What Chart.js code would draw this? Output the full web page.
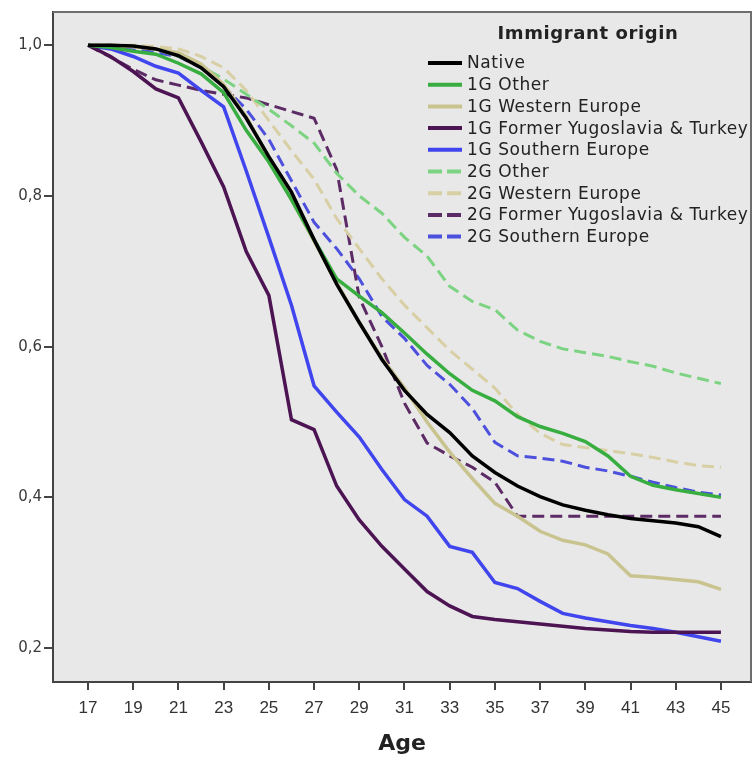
<!DOCTYPE html>
<html lang="en">
<head>
<meta charset="UTF-8">
<title>Immigrant origin by age</title>
<script src="https://cdn.jsdelivr.net/npm/chart.js"></script>
<style>
  html, body { margin: 0; padding: 0; background: #fff; }
  #wrap { width: 755px; height: 763px; }
</style>
</head>
<body>
<div id="wrap"><canvas id="ageChart"></canvas></div>
<script>
// ages on the x axis, one value per year
const ages = [17, 18, 19, 20, 21, 22, 23, 24, 25, 26, 27, 28, 29, 30, 31, 32, 33, 34, 35, 36, 37, 38, 39, 40, 41, 42, 43, 44, 45];

const nativeVals   = [1.0, 1.0, 0.999, 0.995, 0.986, 0.97, 0.945, 0.903, 0.852, 0.805, 0.742, 0.683, 0.632, 0.583, 0.542, 0.51, 0.486, 0.455, 0.433, 0.415, 0.401, 0.39, 0.383, 0.377, 0.372, 0.369, 0.366, 0.361, 0.348];
const other1G      = [1.0, 0.997, 0.992, 0.988, 0.976, 0.962, 0.937, 0.887, 0.845, 0.795, 0.742, 0.69, 0.667, 0.645, 0.618, 0.59, 0.564, 0.542, 0.528, 0.507, 0.494, 0.485, 0.474, 0.455, 0.428, 0.416, 0.41, 0.405, 0.40];
const western1G    = [1.0, 1.0, 0.998, 0.995, 0.99, 0.975, 0.948, 0.905, 0.85, 0.795, 0.74, 0.685, 0.632, 0.585, 0.545, 0.50, 0.46, 0.425, 0.392, 0.375, 0.355, 0.343, 0.337, 0.325, 0.296, 0.294, 0.291, 0.288, 0.278];
const yugo1G       = [1.0, 0.985, 0.965, 0.942, 0.93, 0.872, 0.812, 0.726, 0.668, 0.503, 0.49, 0.415, 0.37, 0.335, 0.305, 0.275, 0.256, 0.242, 0.238, 0.235, 0.232, 0.229, 0.226, 0.224, 0.222, 0.221, 0.221, 0.221, 0.221];
const south1G      = [1.0, 0.995, 0.985, 0.972, 0.963, 0.94, 0.918, 0.833, 0.745, 0.655, 0.548, 0.513, 0.48, 0.437, 0.397, 0.375, 0.335, 0.327, 0.287, 0.279, 0.262, 0.246, 0.24, 0.235, 0.23, 0.226, 0.221, 0.215, 0.209];
const other2G      = [1.0, 1.0, 0.998, 0.995, 0.985, 0.972, 0.955, 0.935, 0.915, 0.893, 0.87, 0.83, 0.80, 0.777, 0.745, 0.72, 0.68, 0.66, 0.649, 0.622, 0.607, 0.597, 0.592, 0.587, 0.58, 0.574, 0.565, 0.558, 0.551];
const western2G    = [1.0, 1.0, 1.0, 0.998, 0.995, 0.985, 0.97, 0.94, 0.90, 0.86, 0.822, 0.77, 0.73, 0.69, 0.655, 0.625, 0.595, 0.57, 0.545, 0.51, 0.485, 0.47, 0.466, 0.462, 0.458, 0.453, 0.447, 0.442, 0.44];
const yugo2G       = [1.0, 0.984, 0.968, 0.954, 0.947, 0.94, 0.935, 0.93, 0.921, 0.912, 0.903, 0.835, 0.665, 0.60, 0.525, 0.472, 0.455, 0.44, 0.42, 0.375, 0.375, 0.375, 0.375, 0.375, 0.375, 0.375, 0.375, 0.375, 0.375];
const south2G      = [1.0, 1.0, 0.995, 0.99, 0.985, 0.97, 0.945, 0.915, 0.875, 0.82, 0.765, 0.73, 0.69, 0.64, 0.611, 0.575, 0.55, 0.518, 0.473, 0.455, 0.452, 0.448, 0.44, 0.435, 0.428, 0.42, 0.413, 0.407, 0.403];

const seriesNames = ['Native', '1G Other', '1G Western Europe', '1G Former Yugoslavia & Turkey', '1G Southern Europe',
                     '2G Other', '2G Western Europe', '2G Former Yugoslavia & Turkey', '2G Southern Europe'];
const seriesValues = [nativeVals, other1G, western1G, yugo1G, south1G, other2G, western2G, yugo2G, south2G];
const seriesColors = ['#000000', '#38ad40', '#c9c48f', '#4c1452', '#4045ee', '#7cd482', '#d8cfa4', '#5c2a64', '#4d50dd'];
const seriesDashed = [false, false, false, false, false, true, true, true, true];

const xTicks = [17, 19, 21, 23, 25, 27, 29, 31, 33, 35, 37, 39, 41, 43, 45];
const yTicks = [0.2, 0.4, 0.6, 0.8, 1.0];

const legendTitle = 'Immigrant origin';

const datasets = seriesNames.map((name, i) => ({
    label: name,
    data: ages.map((a, j) => ({ x: a, y: seriesValues[i][j] })),
    borderColor: seriesColors[i],
    backgroundColor: seriesColors[i],
    borderWidth: seriesDashed[i] ? 3 : 3.5,
    borderDash: seriesDashed[i] ? [12, 6] : [],
    pointRadius: 0,
    tension: 0,
    fill: false
}));

// grey plot panel plus frame
const panelPlugin = {
    id: 'panel',
    beforeDraw(chart) {
        const { ctx, chartArea: a } = chart;
        ctx.save();
        ctx.fillStyle = '#e8e8e8';
        ctx.fillRect(a.left, a.top, a.right - a.left, a.bottom - a.top);
        ctx.restore();
    },
    afterDraw(chart) {
        const { ctx, chartArea: a } = chart;
        ctx.save();
        ctx.strokeStyle = '#6e6e6e';
        ctx.lineWidth = 2;
        ctx.beginPath();
        ctx.moveTo(a.left, a.top);
        ctx.lineTo(a.right, a.top);
        ctx.lineTo(a.right, a.bottom);
        ctx.stroke();
        ctx.restore();
    }
};

// legend drawn inside the plot, top right
const insideLegend = {
    id: 'insideLegend',
    afterDatasetsDraw(chart) {
        const { ctx } = chart;
        ctx.save();
        ctx.fillStyle = '#222';
        ctx.letterSpacing = '0.6px';
        ctx.font = 'bold 18px "DejaVu Sans", sans-serif';
        ctx.textAlign = 'center';
        ctx.textBaseline = 'middle';
        ctx.fillText(legendTitle, 588, 34);

        ctx.font = '17px "DejaVu Sans", sans-serif';
        ctx.textAlign = 'left';
        chart.data.datasets.forEach((ds, i) => {
            const y = 63 + i * 21.7;
            ctx.strokeStyle = ds.borderColor;
            ctx.lineWidth = 4;
            ctx.setLineDash(ds.borderDash.length ? [14, 5] : []);
            ctx.beginPath();
            ctx.moveTo(428, y);
            ctx.lineTo(462, y);
            ctx.stroke();
            ctx.setLineDash([]);
            ctx.fillStyle = '#222';
            ctx.fillText(ds.label, 467, y + 1);
        });
        ctx.restore();
    }
};

const ctx = document.getElementById('ageChart').getContext('2d');
new Chart(ctx, {
    type: 'line',
    data: { datasets: datasets },
    options: {
        responsive: true,
        maintainAspectRatio: false,
        animation: false,
        layout: { padding: { left: 0, right: 4, top: 12, bottom: 0 } },
        plugins: {
            legend: { display: false },
            tooltip: { enabled: false }
        },
        scales: {
            x: {
                type: 'linear',
                min: 15.45,
                max: 46.33,
                afterBuildTicks: (scale) => { scale.ticks = xTicks.map(v => ({ value: v })); },
                afterFit: (scale) => { scale.height = 81; },
                grid: { drawOnChartArea: false, drawTicks: true, tickLength: 8, color: '#444', lineWidth: 2 },
                border: { display: true, color: '#444', width: 2 },
                ticks: {
                    padding: 8,
                    color: '#333',
                    maxRotation: 0,
                    autoSkip: false,
                    font: { family: '"Liberation Sans Narrow", "Liberation Sans", sans-serif', size: 17 },
                    callback: (v) => String(v)
                },
                title: {
                    display: true,
                    text: 'Age',
                    color: '#222',
                    font: { family: '"DejaVu Sans", sans-serif', size: 22, weight: 'bold' },
                    padding: { top: 0, bottom: 6 }
                }
            },
            y: {
                min: 0.155,
                max: 1.044,
                afterBuildTicks: (scale) => { scale.ticks = yTicks.map(v => ({ value: v })); },
                afterFit: (scale) => { scale.width = 53; },
                grid: { drawOnChartArea: false, drawTicks: true, tickLength: 9, color: '#444', lineWidth: 2 },
                border: { display: true, color: '#444', width: 2 },
                ticks: {
                    padding: 2,
                    color: '#3a3a3a',
                    font: { family: '"DejaVu Sans", sans-serif', size: 15 },
                    callback: (v) => v.toFixed(1).replace('.', ',')
                }
            }
        }
    },
    plugins: [panelPlugin, insideLegend]
});
</script>
</body>
</html>
